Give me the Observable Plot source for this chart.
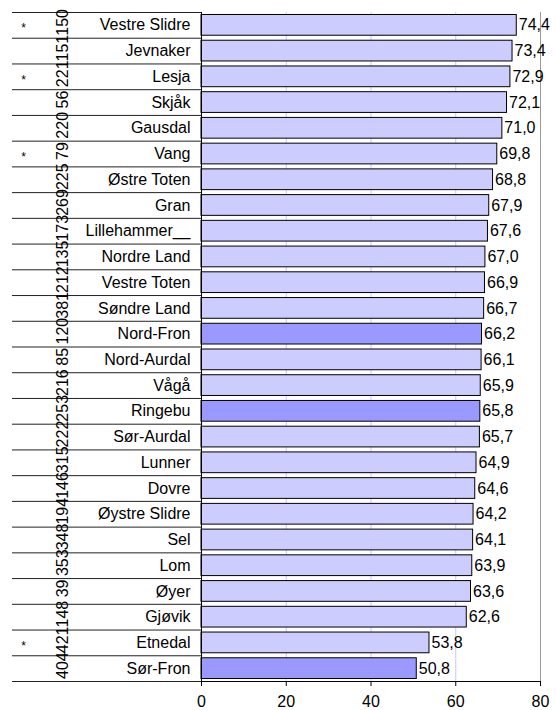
<!DOCTYPE html>
<html><head><meta charset="utf-8">
<script src="https://cdn.jsdelivr.net/npm/d3@7"></script>
<script src="https://cdn.jsdelivr.net/npm/@observablehq/plot@0.6"></script>
<style>body{margin:0;background:#fff} svg{display:block}</style>
</head><body><div id="chart"></div>
<script>
const names = ["Vestre Slidre","Jevnaker","Lesja","Skjåk","Gausdal","Vang","Østre Toten","Gran","Lillehammer__","Nordre Land","Vestre Toten","Søndre Land","Nord-Fron","Nord-Aurdal","Vågå","Ringebu","Sør-Aurdal","Lunner","Dovre","Øystre Slidre","Sel","Lom","Øyer","Gjøvik","Etnedal","Sør-Fron"];
const values = [74.4,73.4,72.9,72.1,71.0,69.8,68.8,67.9,67.6,67.0,66.9,66.7,66.2,66.1,65.9,65.8,65.7,64.9,64.6,64.2,64.1,63.9,63.6,62.6,53.8,50.8];
const codes = ["150","151","221","56","220","79","225","269","173","135","212","381","120","85","216","253","222","315","146","194","348","353","39","148","421","404"];
const stars = ["*","","*","","","*","","","","","","","","","","","","","","","","","","","*",""];
const highlighted = ["Nord-Fron","Ringebu","Sør-Fron"];
const xTicks = [0,20,40,60,80];
const gridTicks = [20,40,60];

const data = names.map((n,i)=>({name:n, value:values[i], code:codes[i], star:stars[i], hi: highlighted.includes(n)}));
const W=556, H=710, mt=12, mb=29, ml=201, mr=16;
const rowH = (H-mt-mb)/names.length;
const fmt = v => d3.format(".1f")(v).replace(".", ",");
const font = "'Liberation Sans', Arial, sans-serif";

const chart = Plot.plot({
  width: W, height: H,
  marginTop: mt, marginBottom: mb, marginLeft: ml, marginRight: mr,
  style: {fontFamily: font, fontSize: "16px", background: "#fff", color: "#000"},
  x: {domain: [0,80], ticks: xTicks, label: null},
  y: {domain: names, padding: 0, round: false, axis: null, label: null},
  marks: [
    Plot.gridX(gridTicks, {stroke: "#c8c8f4", strokeOpacity: 1}),
    Plot.frame({anchor: "right", stroke: "#999"}),
    Plot.barX(data, {y: "name", x: "value", fill: d => d.hi ? "#9999ff" : "#ccccff", stroke: "#000", strokeWidth: 1, insetTop: 2.5, insetBottom: 2.5}),
    Plot.ruleY(data, {y: "name", dy: -rowH/2, insetLeft: -(ml-12), insetRight: W-ml-mr, stroke: "#222"}),
    Plot.ruleY(data.slice(-1), {y: "name", dy: rowH/2, insetLeft: -(ml-12), insetRight: W-ml-mr, stroke: "#222"}),
    Plot.frame({anchor: "left", stroke: "#000"}),
    Plot.frame({anchor: "bottom", stroke: "#000"}),
    Plot.text(data, {y: "name", text: "name", frameAnchor: "left", textAnchor: "end", dx: -11, fontSize: 16}),
    Plot.text(data, {y: "name", text: "star", frameAnchor: "left", textAnchor: "middle", dx: -178, dy: 3, fontSize: 12}),
    Plot.text(data, {y: "name", text: "code", frameAnchor: "left", textAnchor: "middle", dx: -139, dy: -3, rotate: -90, fontSize: 16}),
    Plot.text(data, {x: "value", y: "name", text: d => fmt(d.value), textAnchor: "start", dx: 2, fontSize: 16}),
    Plot.axisX(xTicks, {anchor: "bottom", tickSize: 5, tickPadding: 9, fontSize: 16, stroke: "#000", label: null})
  ]
});
document.getElementById("chart").append(chart);
</script>
</body></html>
